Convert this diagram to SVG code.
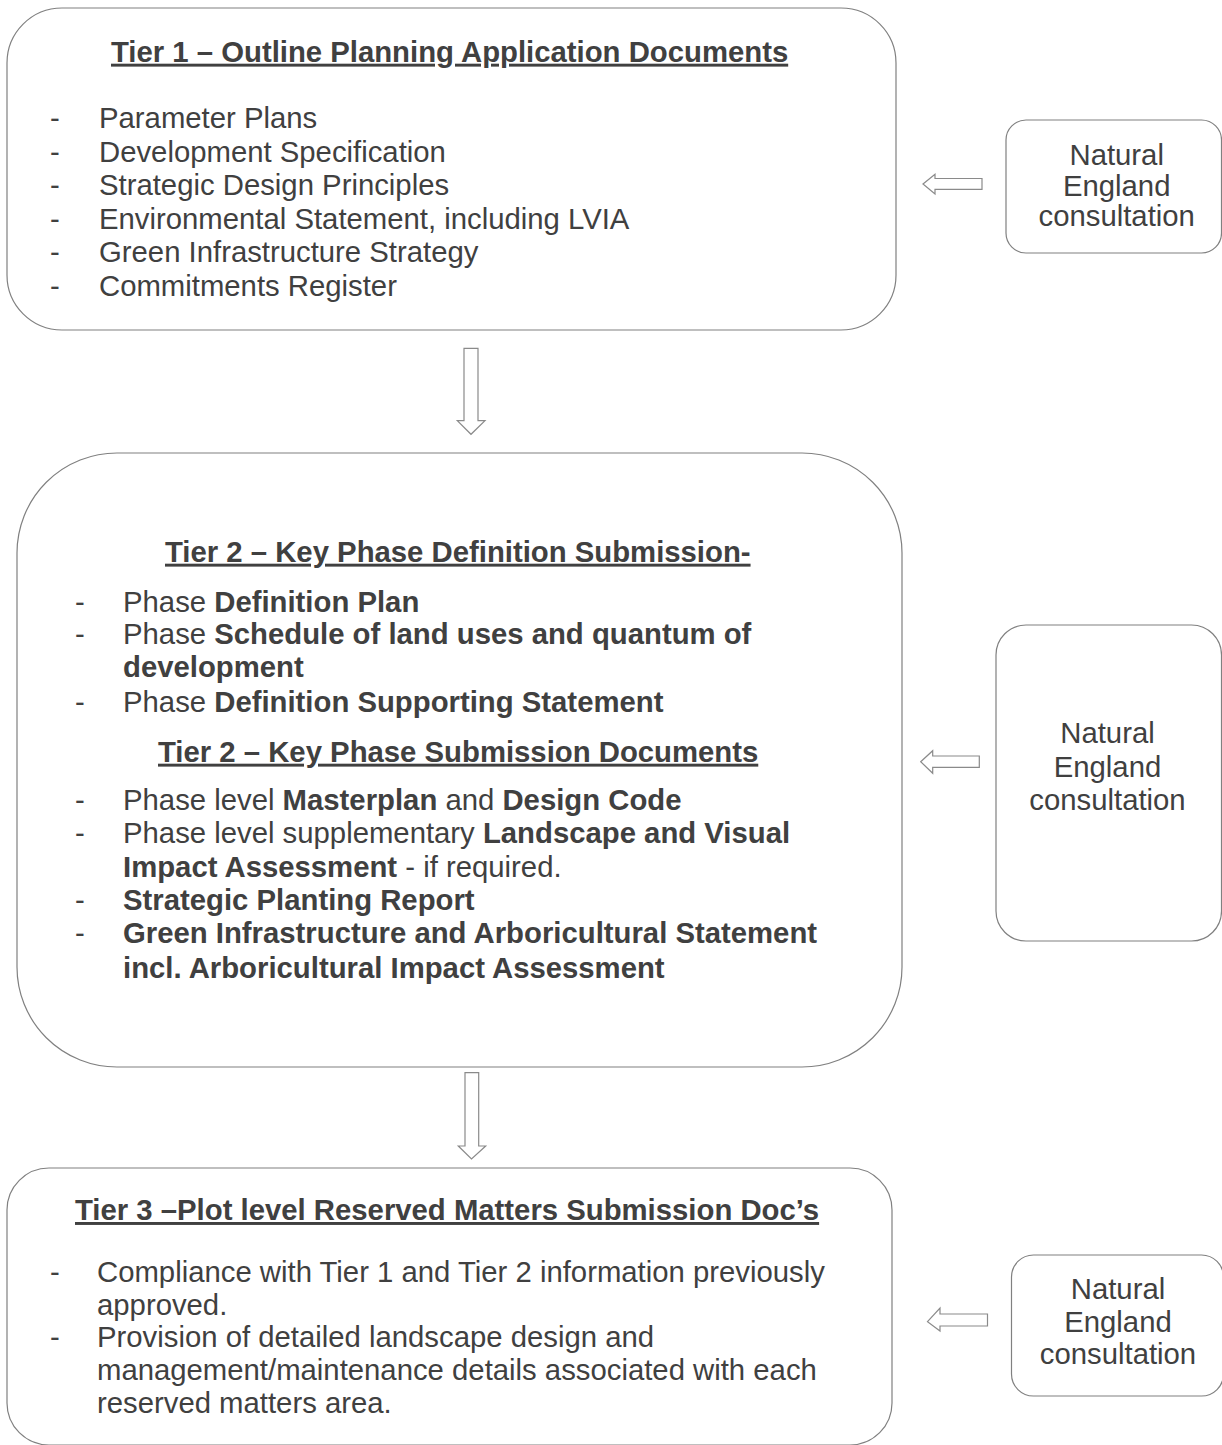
<svg xmlns="http://www.w3.org/2000/svg" width="1222" height="1445" viewBox="0 0 1222 1445">
<style>
  .box { fill: #ffffff; stroke: #808080; stroke-width: 1.2; }
  .arr { fill: #ffffff; stroke: #8a8a8a; stroke-width: 1.2; stroke-linejoin: miter; }
  text { font-family: "Liberation Sans", Arial, sans-serif; font-size: 29.3px; fill: #404040; }
  .title { font-weight: bold; text-decoration: underline; }
  .b { font-weight: bold; }
  .ne { text-anchor: middle; }
</style>
<rect width="1222" height="1445" fill="#ffffff"/>

<g id="tier1">
  <rect class="box" x="7" y="8" width="889" height="322" rx="55" ry="55"/>
  <text class="title" x="111" y="61.7">Tier 1 – Outline Planning Application Documents</text>
  <text x="50" y="128.3">-</text><text x="99" y="128.3">Parameter Plans</text>
  <text x="50" y="161.8">-</text><text x="99" y="161.8">Development Specification</text>
  <text x="50" y="195.3">-</text><text x="99" y="195.3">Strategic Design Principles</text>
  <text x="50" y="228.8">-</text><text x="99" y="228.8">Environmental Statement, including LVIA</text>
  <text x="50" y="262.3">-</text><text x="99" y="262.3">Green Infrastructure Strategy</text>
  <text x="50" y="295.8">-</text><text x="99" y="295.8">Commitments Register</text>
</g>

<g id="ne1">
  <rect class="box" x="1006" y="120" width="215.5" height="133" rx="20" ry="20"/>
  <text class="ne" x="1116.7" y="165">Natural</text>
  <text class="ne" x="1116.7" y="196">England</text>
  <text class="ne" x="1116.7" y="226">consultation</text>
</g>

<g id="tier2">
  <rect class="box" x="17" y="453" width="885" height="614" rx="100" ry="100"/>
  <text class="title" x="165" y="561.7">Tier 2 – Key Phase Definition Submission-</text>
  <text x="75" y="611.7">-</text><text x="123" y="611.7">Phase <tspan class="b">Definition Plan</tspan></text>
  <text x="75" y="643.5">-</text><text x="123" y="643.5">Phase <tspan class="b">Schedule of land uses and quantum of</tspan></text>
  <text class="b" x="123" y="677.3">development</text>
  <text x="75" y="711.7">-</text><text x="123" y="711.7">Phase <tspan class="b">Definition Supporting Statement</tspan></text>
  <text class="title" x="158" y="761.7">Tier 2 – Key Phase Submission Documents</text>
  <text x="75" y="810">-</text><text x="123" y="810">Phase level <tspan class="b">Masterplan</tspan> and <tspan class="b">Design Code</tspan></text>
  <text x="75" y="843.3">-</text><text x="123" y="843.3">Phase level supplementary <tspan class="b">Landscape and Visual</tspan></text>
  <text x="123" y="876.7"><tspan class="b">Impact Assessment</tspan> - if required.</text>
  <text x="75" y="910">-</text><text class="b" x="123" y="910">Strategic Planting Report</text>
  <text x="75" y="943.3">-</text><text class="b" x="123" y="943.3">Green Infrastructure and Arboricultural Statement</text>
  <text class="b" x="123" y="977.5">incl. Arboricultural Impact Assessment</text>
</g>

<g id="ne2">
  <rect class="box" x="996" y="625" width="225.5" height="316" rx="30" ry="30"/>
  <text class="ne" x="1107.5" y="742.5">Natural</text>
  <text class="ne" x="1107.5" y="776.5">England</text>
  <text class="ne" x="1107.5" y="809.5">consultation</text>
</g>

<g id="tier3">
  <rect class="box" x="7" y="1168" width="885" height="277" rx="42" ry="42"/>
  <text class="title" x="75" y="1220">Tier 3 –Plot level Reserved Matters Submission Doc’s</text>
  <text x="50" y="1281.7">-</text><text x="97" y="1281.7">Compliance with Tier 1 and Tier 2 information previously</text>
  <text x="97" y="1315">approved.</text>
  <text x="50" y="1346.7">-</text><text x="97" y="1346.7">Provision of detailed landscape design and</text>
  <text x="97" y="1380">management/maintenance details associated with each</text>
  <text x="97" y="1413.3">reserved matters area.</text>
</g>

<g id="ne3">
  <rect class="box" x="1011.5" y="1255" width="212" height="141" rx="22" ry="22"/>
  <text class="ne" x="1118" y="1299">Natural</text>
  <text class="ne" x="1118" y="1331.7">England</text>
  <text class="ne" x="1118" y="1364">consultation</text>
</g>

<g id="connectors">
  <polygon class="arr" points="923,184 935,174.3 935,178.5 982,178.5 982,189.3 935,189.3 935,194"/>
  <polygon class="arr" points="920.7,761.7 932.7,750.7 932.7,756 979.3,756 979.3,767.3 932.7,767.3 932.7,773.3"/>
  <polygon class="arr" points="927.5,1321.7 940,1308 940,1314 987.5,1314 987.5,1326 940,1326 940,1331"/>
  <polygon class="arr" points="464,348.3 478,348.3 478,420.7 485,420.7 471,434.3 457.3,420.7 464,420.7"/>
  <polygon class="arr" points="465,1072.7 478.7,1072.7 478.7,1146 485.7,1146 471.5,1159 458.3,1146 465,1146"/>
</g>
</svg>
